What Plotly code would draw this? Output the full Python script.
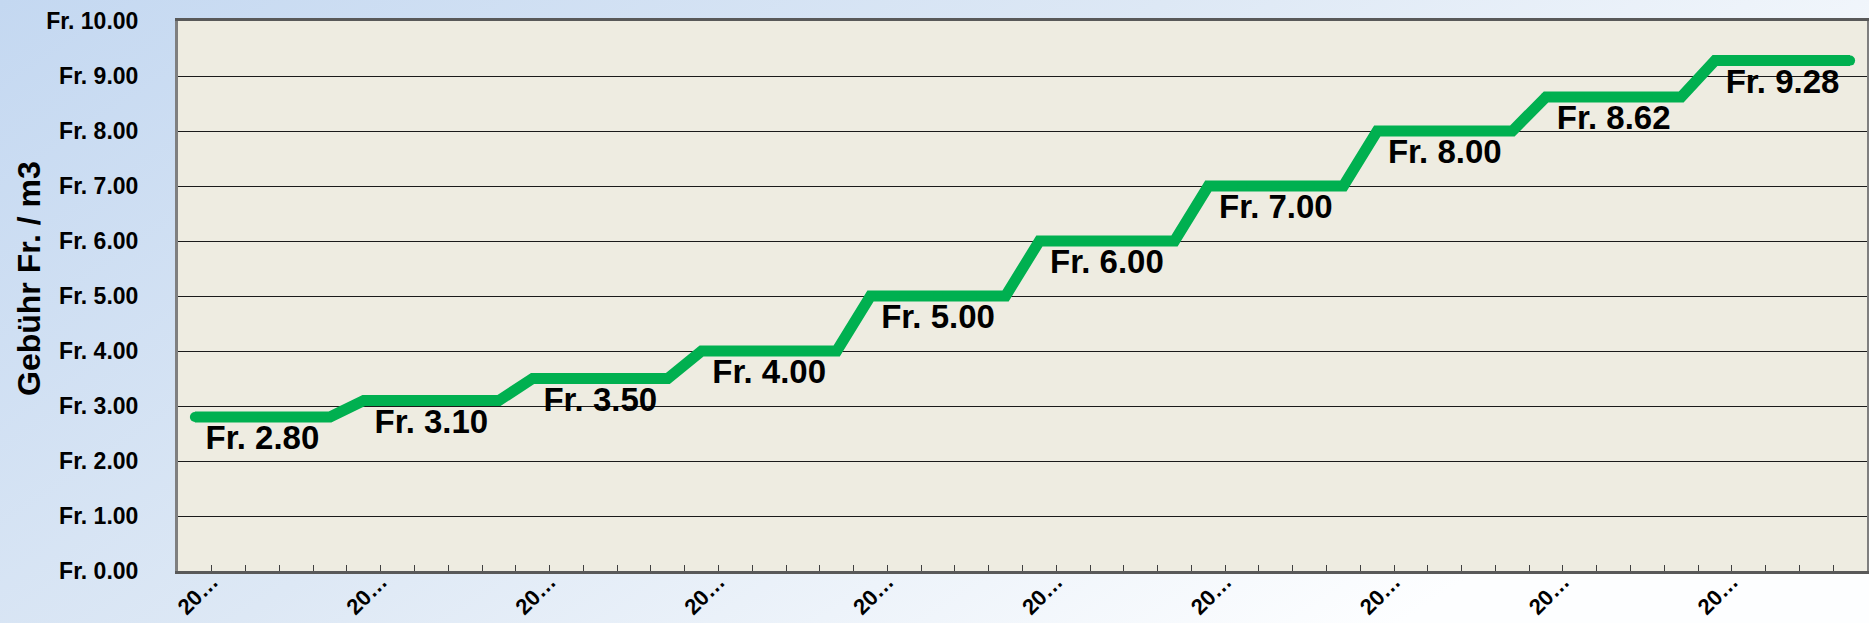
import base64
import plotly.graph_objects as go

# ---- data ----
periods = list(range(50))  # 50 periods, labelled every 5th
period_labels = ["20…", "", "", "", "", "20…", "", "", "", "",
                 "20…", "", "", "", "", "20…", "", "", "", "",
                 "20…", "", "", "", "", "20…", "", "", "", "",
                 "20…", "", "", "", "", "20…", "", "", "", "",
                 "20…", "", "", "", "", "20…", "", "", "", ""]
fee = [2.80, 2.80, 2.80, 2.80, 2.80,
       3.10, 3.10, 3.10, 3.10, 3.10,
       3.50, 3.50, 3.50, 3.50, 3.50,
       4.00, 4.00, 4.00, 4.00, 4.00,
       5.00, 5.00, 5.00, 5.00, 5.00,
       6.00, 6.00, 6.00, 6.00, 6.00,
       7.00, 7.00, 7.00, 7.00, 7.00,
       8.00, 8.00, 8.00, 8.00, 8.00,
       8.62, 8.62, 8.62, 8.62, 8.62,
       9.28, 9.28, 9.28, 9.28, 9.28]
label_shown = [False, False, True, False, False] * 10
y_title = "Gebühr Fr. / m3"

# ---- layout constants ----
W, H = 1869, 623
ML, MR, MT, MB = 178, 2, 21, 52
PW, PH = W - ML - MR, H - MT - MB
FONT = "Liberation Sans, Arial, sans-serif"

texts = [f"Fr. {v:.2f}" if s else "" for v, s in zip(fee, label_shown)]

fig = go.Figure()
fig.add_trace(go.Scatter(
    x=periods, y=fee, mode="lines+markers+text",
    line=dict(color="#00b050", width=11),
    marker=dict(color="#00b050", size=10),
    text=texts, textposition="bottom center",
    textfont=dict(family=FONT, size=33, color="#000000", weight="bold"),
    cliponaxis=False, showlegend=False, hoverinfo="x+y",
))

# gradient background as an svg image
svg = ('<svg xmlns="http://www.w3.org/2000/svg" width="1869" height="623" '
       'preserveAspectRatio="none"><defs><linearGradient id="g" x1="0" y1="0" '
       'x2="1" y2="0.5"><stop offset="0" stop-color="#c4d8f1"/>'
       '<stop offset="0.5" stop-color="#dde8f5"/>'
       '<stop offset="1" stop-color="#fdfeff"/></linearGradient></defs>'
       '<rect width="1869" height="623" fill="url(#g)"/></svg>')
src = "data:image/svg+xml;base64," + base64.b64encode(svg.encode()).decode()

tickvals = [p + 0.5 for p in periods[:-1]]
ticktext = period_labels[:-1]

fig.update_layout(
    width=W, height=H,
    margin=dict(l=ML, r=MR, t=MT, b=MB, autoexpand=False),
    paper_bgcolor="#dae6f4",
    plot_bgcolor="#eeece1",
    font=dict(family=FONT, color="#000000", weight="bold"),
    images=[dict(source=src, xref="paper", yref="paper",
                 x=-ML / PW, y=1 + MT / PH, sizex=W / PW, sizey=H / PH,
                 xanchor="left", yanchor="top", sizing="stretch", layer="below")],
    shapes=[dict(type="rect", xref="paper", yref="paper", x0=0, x1=1, y0=0, y1=1,
                 fillcolor="#eeece1", line=dict(width=0), layer="below")],
    xaxis=dict(
        range=[-0.5, 49.5], showgrid=False, zeroline=False,
        tickmode="array", tickvals=tickvals, ticktext=ticktext,
        ticks="inside", ticklen=6, tickwidth=1, tickcolor="#404040",
        tickangle=-45, tickfont=dict(family=FONT, size=22, weight="bold"),
        ticklabelstandoff=-14,
        showline=True, linecolor="#595959", linewidth=3, mirror=True,
    ),
    yaxis=dict(
        range=[0, 10], dtick=1, tick0=0, showgrid=True, gridcolor="#1a1a1a",
        gridwidth=1, zeroline=False, tickprefix="Fr. ", tickformat=".2f",
        ticks="", ticklabelstandoff=32,
        tickfont=dict(family=FONT, size=23, weight="bold"),
        showline=True, linecolor="#7f7f7f", linewidth=3, mirror=True,
    ),
    annotations=[dict(text=y_title, xref="paper", yref="paper",
                      x=(28.5 - ML) / PW, y=(H - MB - 278.5) / PH,
                      xanchor="center", yanchor="middle", textangle=-90,
                      showarrow=False,
                      font=dict(family=FONT, size=32, weight="bold"))],
)

fig.write_html("out.html",
               config={"displayModeBar": False},
               post_script="document.body.style.margin='0';"
                           "document.body.style.overflow='hidden';")
